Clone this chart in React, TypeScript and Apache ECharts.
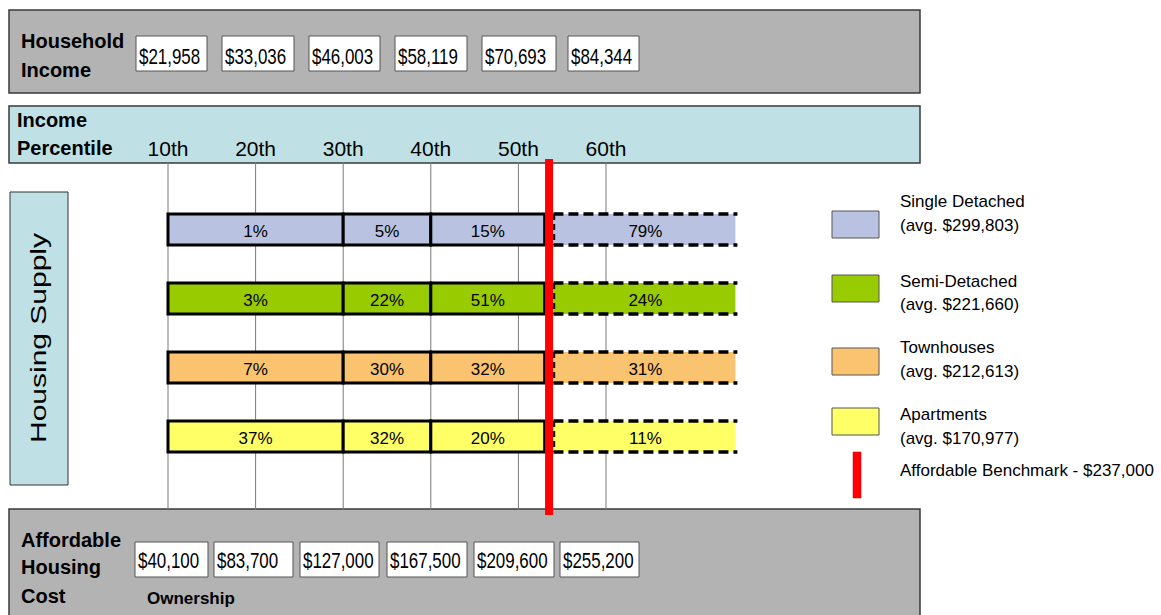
import React, { useEffect, useRef } from 'react';
import * as echarts from 'echarts';

// ---------- data ----------
const categories = ['Single Detached', 'Semi-Detached', 'Townhouses', 'Apartments'];
const avgPrices = [299803, 221660, 212613, 170977];
const singleDetached = [1, 5, 15, 79];
const semiDetached = [3, 22, 51, 24];
const townhouses = [7, 30, 32, 31];
const apartments = [37, 32, 20, 11];
const shares = [singleDetached, semiDetached, townhouses, apartments];
// income-percentile range covered by each segment
const segmentStart = [10, 30, 40, 54];
const segmentEnd = [30, 40, 53, 75];
const segmentDashed = [0, 0, 0, 1];
const percentileTicks = [10, 20, 30, 40, 50, 60];
const householdIncome = [21958, 33036, 46003, 58119, 70693, 84344];
const affordableCost = [40100, 83700, 127000, 167500, 209600, 255200];
const benchmarkPercentile = 53.5;
const benchmarkPrice = 237000;

// ---------- styles / layout ----------
const colors = ['#b9c3e1', '#99cc00', '#fac36f', '#ffff66'];
const FONT = '"Liberation Sans", Arial, sans-serif';
const GRAY = '#b3b3b3';
const BLUE = '#bfe0e4';
const incomeBoxes = [[136, 207], [222, 294], [309, 380], [395, 467], [482, 556], [568, 639]];
const costBoxes = [[135, 208], [214, 293], [300, 379], [387, 467], [474, 554], [560, 639]];
const legendSwatchY = [211, 275, 348, 408];
const legendLine1Y = [201, 281, 347, 414];
const legendLine2Y = [225, 304, 371, 438];

const money = (n: number) => '$' + n.toLocaleString('en-US');

function txt(text: string, x: number, y: number, opts: any = {}) {
  return {
    type: 'text',
    x,
    y,
    z: 5,
    ...(opts.el || {}),
    style: {
      text,
      fill: '#000',
      fontSize: opts.size || 17,
      fontFamily: FONT,
      fontWeight: opts.weight || 'normal',
      textAlign: opts.align || 'left',
      align: opts.align || 'left',
      textVerticalAlign: 'middle',
      verticalAlign: 'middle',
    },
  };
}

function rect(x: number, y: number, w: number, h: number, fill: string, stroke: string, lw = 1, z = 1) {
  return { type: 'rect', z, shape: { x, y, width: w, height: h }, style: { fill, stroke, lineWidth: lw } };
}

function buildGraphic() {
  const els: any[] = [];
  // bands
  els.push(rect(9, 10, 911, 83, GRAY, '#3a3a3a', 1.5, 0));
  els.push(rect(9, 106, 911, 57, BLUE, '#3a3a3a', 1.5, 0));
  els.push(rect(9, 509, 911, 112, GRAY, '#3a3a3a', 1.5, 0));
  els.push(rect(10, 192, 58, 293, BLUE, '#333', 1, 0));
  // titles
  els.push(txt('Household', 21, 41, { size: 20, weight: 'bold' }));
  els.push(txt('Income', 21, 70, { size: 20, weight: 'bold' }));
  els.push(txt('Income', 17, 120, { size: 20, weight: 'bold' }));
  els.push(txt('Percentile', 17, 148, { size: 20, weight: 'bold' }));
  els.push(txt('Affordable', 21, 540, { size: 20, weight: 'bold' }));
  els.push(txt('Housing', 21, 567, { size: 20, weight: 'bold' }));
  els.push(txt('Cost', 21, 596, { size: 20, weight: 'bold' }));
  els.push(txt('Ownership', 147, 598, { size: 17, weight: 'bold' }));
  els.push(
    txt('Housing Supply', 39, 338, {
      size: 30,
      align: 'center',
      el: { rotation: Math.PI / 2, scaleY: 0.72 },
    })
  );
  // value boxes
  householdIncome.forEach((v, i) => {
    const [l, r] = incomeBoxes[i];
    els.push(rect(l, 36, r - l, 35, '#fff', '#555', 1, 2));
    els.push(txt(money(v), l + 3, 56, { size: 22, el: { scaleX: 0.77 } }));
  });
  affordableCost.forEach((v, i) => {
    const [l, r] = costBoxes[i];
    els.push(rect(l, 542, r - l, 35, '#fff', '#555', 1, 2));
    els.push(txt(money(v), l + 3, 560, { size: 22, el: { scaleX: 0.77 } }));
  });
  // legend
  categories.forEach((c, i) => {
    els.push(rect(832, legendSwatchY[i], 47, 27, colors[i], '#555', 1, 2));
    els.push(txt(c, 900, legendLine1Y[i], { size: 17 }));
    els.push(txt('(avg. ' + money(avgPrices[i]) + ')', 900, legendLine2Y[i], { size: 17 }));
  });
  els.push(rect(853, 452, 8, 46, '#ff0000', '#cc0000', 0.5, 2));
  els.push(txt('Affordable Benchmark - ' + money(benchmarkPrice), 900, 470, { size: 17 }));
  return els;
}

function barSeries(rowIndex: number) {
  const color = colors[rowIndex];
  const data = shares[rowIndex].map((s, k) => [segmentStart[k], segmentEnd[k], rowIndex, s, segmentDashed[k]]);
  return {
    type: 'custom',
    name: categories[rowIndex],
    xAxisIndex: 1,
    yAxisIndex: 1,
    z: 5,
    encode: { x: [0, 1], y: 2 },
    data,
    renderItem: (params: any, api: any) => {
      const p0 = api.coord([api.value(0), api.value(2)]);
      const p1 = api.coord([api.value(1), api.value(2)]);
      const h = 31;
      const top = p0[1] - h / 2;
      const w = p1[0] - p0[0];
      const dashed = api.value(4) === 1;
      const children: any[] = [];
      if (!dashed) {
        children.push({
          type: 'rect',
          shape: { x: p0[0], y: top, width: w, height: h },
          style: { fill: color, stroke: '#000', lineWidth: 3 },
        });
      } else {
        const ds = { stroke: '#000', lineWidth: 3.5, lineDash: [10, 5], fill: null };
        children.push({ type: 'rect', shape: { x: p0[0], y: top, width: w - 2, height: h }, style: { fill: color } });
        children.push({ type: 'line', shape: { x1: p0[0], y1: top, x2: p1[0], y2: top }, style: ds });
        children.push({ type: 'line', shape: { x1: p0[0], y1: top + h, x2: p1[0], y2: top + h }, style: ds });
        children.push({ type: 'line', shape: { x1: p0[0], y1: top, x2: p0[0], y2: top + h }, style: { ...ds, lineDash: [6, 4] } });
      }
      children.push({
        type: 'text',
        style: {
          text: api.value(3) + '%',
          x: p0[0] + w / 2,
          y: p0[1] + 2,
          fill: '#000',
          fontSize: 17,
          fontFamily: FONT,
          textAlign: 'center',
          align: 'center',
          textVerticalAlign: 'middle',
          verticalAlign: 'middle',
        },
      });
      return { type: 'group', children };
    },
  };
}

export default function App() {
  const ref = useRef<HTMLDivElement>(null);
  useEffect(() => {
    if (!ref.current) return;
    const chart = echarts.init(ref.current, null, { renderer: 'svg' });
    const gridLeft = 80.4;
    const gridWidth = 876;
    chart.setOption({
      animation: false,
      backgroundColor: '#fff',
      grid: [
        { left: gridLeft, width: gridWidth, top: 162, height: 348 },
        { left: gridLeft, width: gridWidth, top: 195, height: 276 },
      ],
      xAxis: [
        {
          gridIndex: 0,
          type: 'value',
          min: 0,
          max: 100,
          interval: 10,
          position: 'top',
          z: 20,
          axisLine: { show: false },
          axisTick: { show: false },
          splitLine: { show: false },
          axisLabel: {
            margin: 3,
            color: '#000',
            fontSize: 21,
            fontFamily: FONT,
            formatter: (v: number) => (percentileTicks.includes(v) ? v + 'th' : ''),
          },
        },
        { gridIndex: 1, type: 'value', min: 0, max: 100, show: false },
      ],
      yAxis: [
        { gridIndex: 0, type: 'value', min: 0, max: 1, show: false },
        { gridIndex: 1, type: 'category', data: categories, inverse: true, show: false },
      ],
      graphic: { elements: buildGraphic() },
      series: [
        {
          type: 'custom',
          name: 'percentile grid',
          xAxisIndex: 0,
          yAxisIndex: 0,
          z: 2,
          encode: { x: 0, y: 1 },
          data: percentileTicks.map((p) => [p, 0]),
          renderItem: (params: any, api: any) => {
            const x = api.coord([api.value(0), 0])[0];
            const cs = params.coordSys;
            return {
              type: 'line',
              shape: { x1: x, y1: cs.y, x2: x, y2: cs.y + cs.height },
              style: { stroke: '#7a7a7a', lineWidth: 1 },
            };
          },
        },
        ...categories.map((_, i) => barSeries(i)),
        {
          type: 'custom',
          name: 'Affordable Benchmark',
          xAxisIndex: 0,
          yAxisIndex: 0,
          z: 10,
          encode: { x: 0, y: 1 },
          data: [[benchmarkPercentile, 0]],
          renderItem: (params: any, api: any) => {
            const x = api.coord([api.value(0), 0])[0];
            const cs = params.coordSys;
            return {
              type: 'rect',
              shape: { x: x - 4, y: cs.y - 3, width: 8, height: cs.height + 8 },
              style: { fill: '#ff0000' },
            };
          },
        },
      ],
    });
    return () => chart.dispose();
  }, []);
  return (
    <div
      ref={ref}
      style={{ position: 'absolute', left: 0, top: 0, width: 1161, height: 615 }}
    />
  );
}
